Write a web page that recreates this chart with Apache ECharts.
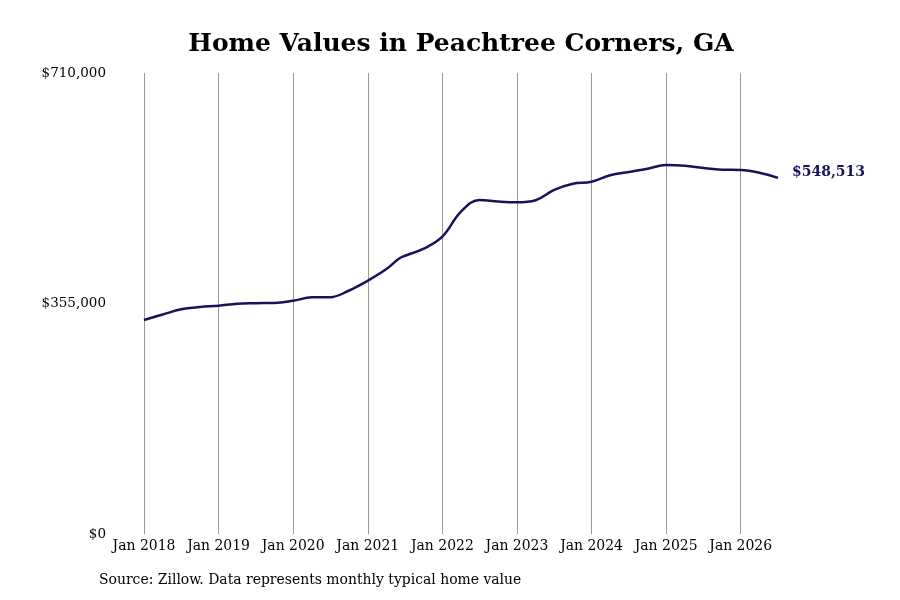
<!DOCTYPE html>
<html>
<head>
<meta charset="utf-8">
<script src="https://cdn.jsdelivr.net/npm/echarts@6/dist/echarts.min.js"></script>
<style>
  html, body { margin: 0; padding: 0; background: #fff; }
  #main { width: 900px; height: 600px; }
</style>
</head>
<body>
<div id="main"></div>
<script>
// months (year-month)
var months = [
    '2018-01', '2018-04', '2018-07', '2018-10',
    '2019-01', '2019-04', '2019-07', '2019-10',
    '2020-01', '2020-04', '2020-07', '2020-10',
    '2021-01', '2021-04', '2021-06', '2021-07', '2021-10',
    '2022-01', '2022-04', '2022-07', '2022-10',
    '2023-01', '2023-04', '2023-07', '2023-10',
    '2024-01', '2024-04', '2024-07', '2024-10',
    '2025-01', '2025-04', '2025-07', '2025-10',
    '2026-01', '2026-04', '2026-07'
];
// typical home value, dollars
var homeValues = [
    329600, 338000, 346000, 349500,
    351600, 354800, 355500, 355800,
    359300, 364500, 364800, 375000,
    390100, 408000, 424000, 428500, 439500,
    457900, 496400, 514400, 512000,
    510800, 514000, 530000, 539500,
    542600, 552400, 557500, 562600,
    568300, 567200, 563700, 561100,
    560600, 556400, 548513
];
var yTicks = [0, 355000, 710000];
var yearTicks = [2018, 2019, 2020, 2021, 2022, 2023, 2024, 2025, 2026];

var chart = echarts.init(document.getElementById('main'));

// turn 'YYYY-MM' into a decimal year for the value axis
function toYear(s) {
    var p = s.split('-');
    return parseInt(p[0], 10) + (parseInt(p[1], 10) - 1) / 12;
}

var points = [];
for (var i = 0; i < months.length; i++) {
    points.push([toYear(months[i]), homeValues[i]]);
}

function money(v) {
    return '$' + Math.round(v).toString().replace(/\B(?=(\d{3})+(?!\d))/g, ',');
}

// vertical lines only at each January (no line at the right edge)
var janLines = yearTicks.map(function (y) { return { xAxis: y }; });

var option = {
    backgroundColor: '#fff',
    animation: false,
    title: {
        text: 'Home Values in Peachtree Corners, GA',
        left: 456,
        top: 27,
        textAlign: 'center',
        textStyle: {
            fontFamily: 'DejaVu Serif',
            fontWeight: 'bold',
            fontSize: 25,
            color: '#000'
        }
    },
    grid: {
        left: 144,
        right: 122,
        top: 73,
        bottom: 66
    },
    xAxis: {
        type: 'value',
        min: yearTicks[0],
        max: toYear(months[months.length - 1]),
        interval: 1,
        axisLine: { show: false },
        axisTick: { show: false },
        axisLabel: {
            showMaxLabel: false,
            margin: 4,
            fontFamily: 'DejaVu Serif Condensed',
            fontSize: 15.5,
            color: '#000',
            formatter: function (v) {
                return yearTicks.indexOf(v) >= 0 ? 'Jan ' + v : '';
            }
        },
        splitLine: { show: false }
    },
    yAxis: {
        type: 'value',
        min: yTicks[0],
        max: yTicks[yTicks.length - 1],
        interval: yTicks[1] - yTicks[0],
        axisLine: { show: false },
        axisTick: { show: false },
        splitLine: { show: false },
        axisLabel: {
            margin: 38,
            fontFamily: 'DejaVu Serif',
            fontSize: 13.5,
            color: '#000',
            formatter: money
        }
    },
    series: [
        {
            type: 'line',
            data: points,
            smooth: 0.4,
            showSymbol: false,
            z: 3,
            lineStyle: { color: '#15145a', width: 2.5 },
            endLabel: {
                show: true,
                distance: 14,
                offset: [0, -5],
                fontFamily: 'DejaVu Serif',
                fontWeight: 'bold',
                fontSize: 14,
                color: '#15145a',
                formatter: function (p) { return money(p.value[1]); }
            },
            markLine: {
                silent: true,
                symbol: ['none', 'none'],
                label: { show: false },
                z: 1,
                lineStyle: { color: '#999', width: 1, type: 'solid' },
                data: janLines
            }
        }
    ],
    graphic: [
        {
            type: 'text',
            left: 99,
            top: 572,
            style: {
                text: 'Source: Zillow. Data represents monthly typical home value',
                fontFamily: 'DejaVu Serif Condensed',
                fontSize: 15.5,
                fill: '#000'
            }
        }
    ]
};

chart.setOption(option);
</script>
</body>
</html>
